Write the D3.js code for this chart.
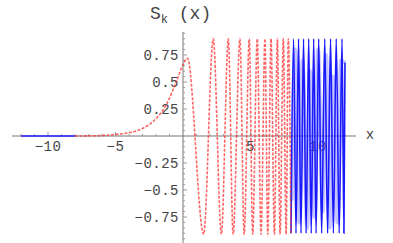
<!DOCTYPE html>
<html>
<head>
<meta charset="utf-8">
<script src="https://cdn.jsdelivr.net/npm/d3@7"></script>
<style>
  body { margin: 0; background: #fff; }
  svg text { font-family: "Liberation Mono", "DejaVu Sans Mono", monospace; fill: #444; }
</style>
</head>
<body>
<svg width="393" height="243"></svg>
<script>
// flat start (blue)
const leftX = [-12, -8];
const leftY = [0, 0];

// red dashed part, extrema
const redX = [-8, -6, -5, -4, -3, -2, -1.2, -0.5, 0, 0.33, 1.53, 2.24, 2.84, 3.36, 3.71, 4.22, 4.53, 4.91, 5.16, 5.50,
  5.78, 6.07, 6.28, 6.52, 6.77, 6.99, 7.19, 7.43, 7.64, 7.8, 8.0];
const redY = [0, 0.004, 0.015, 0.03, 0.07, 0.16, 0.3, 0.5, 0.66, 0.72, -0.91, 0.9, -0.91, 0.9, -0.91, 0.9, -0.91, 0.9, -0.91, 0.9,
  -0.91, 0.9, -0.91, 0.9, -0.91, 0.9, -0.91, 0.9, -0.91, 0.9, -0.9];

// blue end part
const blueX = [8.0, 8.19, 8.37, 8.56, 8.74, 8.93, 9.12, 9.31, 9.5, 9.68, 9.86, 10.05, 10.27, 10.5, 10.71, 10.93,
  11.14, 11.35, 11.57, 11.78, 11.92, 12.0];
const blueY = [-0.9, 0.9, -0.9, 0.9, -0.9, 0.9, -0.9, 0.9, -0.9, 0.9, -0.9, 0.9, -0.9, 0.9, -0.9, 0.9,
  -0.9, 0.9, -0.9, 0.9, -0.9, 0.68];

// faint aliasing strokes in the blue part
const paleX = [8.05, 8.3, 8.6, 8.85, 9.2, 9.45, 9.75, 10.0, 10.35, 10.6, 10.85, 11.1, 11.45, 11.7, 12.0];
const paleY = [-0.6, 0.8, -0.8, 0.7, -0.85, 0.6, -0.75, 0.8, -0.7, 0.75, -0.85, 0.55, -0.8, 0.7, 0.68];

const xMajor = [-10, -5, 5, 10];
const yMajor = [-0.75, -0.5, -0.25, 0.25, 0.5, 0.75];

const svg = d3.select("svg");

const x = d3.scaleLinear().domain([-12, 12]).range([21, 345]);
const y = d3.scaleLinear().domain([-1, 1]).range([244, 28]);

const fmt = d => String(d).replace("-", "\u2212");

// minor ticks
const xMinor = d3.range(-12, 13, 1).filter(d => d !== 0);
const yMinor = d3.range(-0.95, 0.96, 0.05).map(d => Math.round(d * 100) / 100).filter(d => d !== 0);

let gx = svg.append("g").attr("transform", "translate(0," + y(0) + ")");
gx.append("line").attr("x1", 12).attr("x2", 356).attr("stroke", "#777");
gx.selectAll(".mn").data(xMinor).enter().append("line")
  .attr("x1", d => x(d)).attr("x2", d => x(d)).attr("y1", 0)
  .attr("y2", d => xMajor.includes(d) ? -4 : -2).attr("stroke", "#999");
gx.selectAll(".lb").data(xMajor).enter().append("text")
  .attr("x", d => x(d)).attr("y", 15).attr("text-anchor", "middle")
  .attr("font-size", 14).attr("letter-spacing", 0.5).text(fmt);
svg.append("text").attr("x", 370).attr("y", y(0) + 3).attr("text-anchor", "middle")
  .attr("font-size", 14).text("x");

let gy = svg.append("g").attr("transform", "translate(" + x(0) + ",0)");
gy.append("line").attr("y1", 32).attr("y2", 243).attr("stroke", "#777");
gy.selectAll(".mn").data(yMinor).enter().append("line")
  .attr("y1", d => y(d)).attr("y2", d => y(d)).attr("x1", 0)
  .attr("x2", d => yMajor.includes(d) ? 4 : 2).attr("stroke", "#999");
gy.selectAll(".lb").data(yMajor).enter().append("text")
  .attr("x", -4).attr("y", d => y(d) + 5).attr("text-anchor", "end")
  .attr("font-size", 14).attr("letter-spacing", 0.5).text(fmt);

let title = svg.append("text").attr("x", 150).attr("y", 19).attr("font-size", 18);
title.append("tspan").text("S");
title.append("tspan").attr("font-size", 12).attr("dy", 4).text("k");
title.append("tspan").attr("dy", -4).text(" (x)");

const line = d3.line().x(d => x(d[0])).y(d => y(d[1])).curve(d3.curveMonotoneX);
const zip = (a, b) => a.map((v, i) => [v, b[i]]);

svg.append("path").datum(zip(leftX, leftY)).attr("d", line)
  .attr("fill", "none").attr("stroke", "#2222ff").attr("stroke-width", 1.5);

svg.append("path").datum(zip(paleX, paleY)).attr("d", line)
  .attr("fill", "none").attr("stroke", "#6f6fff").attr("stroke-opacity", 0.4).attr("stroke-width", 4);

svg.append("path").datum(zip(blueX, blueY)).attr("d", line)
  .attr("fill", "none").attr("stroke", "#1a1aff").attr("stroke-width", 1.6);

svg.append("path").datum(zip(redX, redY)).attr("d", line)
  .attr("fill", "none").attr("stroke", "#ff3030").attr("stroke-opacity", 0.75)
  .attr("stroke-width", 1.6).attr("stroke-dasharray", "3,1.5");
</script>
</body>
</html>
